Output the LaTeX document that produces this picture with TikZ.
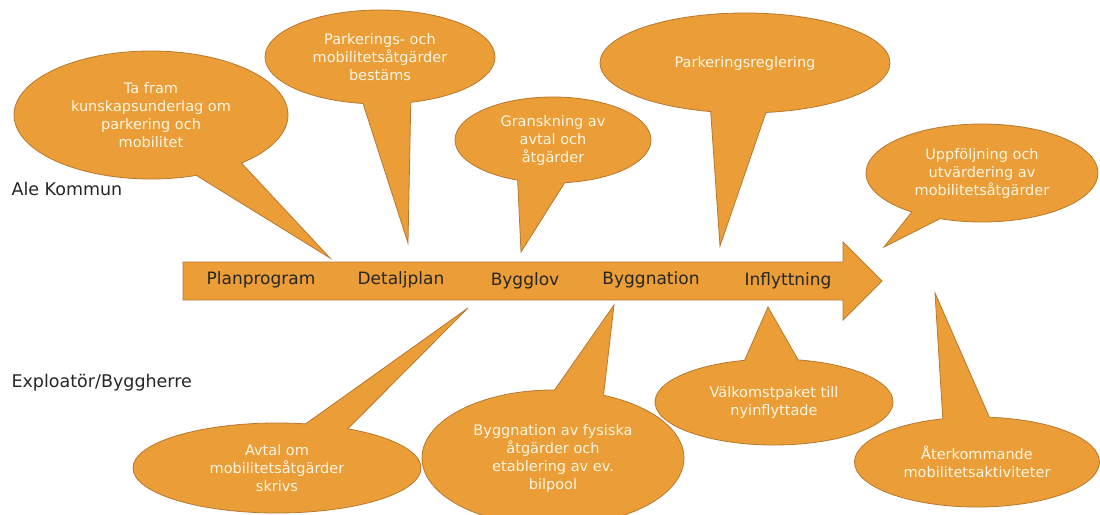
\documentclass[tikz,border=0pt]{standalone}
\usepackage{fontspec}
\setmainfont{DejaVu Sans}
\usepackage{tikz}
\usetikzlibrary{shapes.callouts}
\definecolor{naranja}{RGB}{235,157,55}
\definecolor{borde}{RGB}{184,120,46}
\definecolor{crema}{RGB}{255,246,226}
\tikzset{
  burbuja/.style={ellipse callout, fill=naranja, draw=borde, line width=0.8pt,
    text=crema, align=center, inner sep=0pt, callout pointer arc=22,
    font=\fontsize{14.5}{18}\selectfont},
  etapa/.style={text=black!85, font=\fontsize{17}{20}\selectfont},
  actor/.style={anchor=west, text=black!85, font=\fontsize{17.5}{20}\selectfont}
}

\begin{document}
\begin{tikzpicture}[x=1pt, y=-1pt]
                      \useasboundingbox (0,0) rectangle (1100,514);
                      \filldraw[fill=naranja, draw=borde, line width=0.8pt] (183,262) -- (843,262) -- (843,242) -- (882,281) -- (843,320) -- (843,300) -- (183,300) -- cycle; % flecha
                      \node[etapa] (plan) at (261,280) {Planprogram};
                      \node[etapa] (detalj) at (401,280) {Detaljplan};
                      \node[etapa] (bygglov) at (525,281) {Bygglov};
                      \node[etapa] (byggn) at (651,280) {Byggnation};
                      \node[etapa] (infl) at (788,281) {Inflyttning};
                      \node[actor] (ale) at (8,189) {Ale Kommun};
                      \node[actor] (expl) at (8,383) {Exploatör/Byggherre};
                      % burbujas arriba
                      \node[burbuja, minimum width=274, minimum height=128, callout absolute pointer={(330,258)}, callout pointer arc=22] (kunskap) at (151,115) {Ta fram\\kunskapsunderlag om\\parkering och\\mobilitet};
                      \node[burbuja, minimum width=230, minimum height=94, callout absolute pointer={(408,243)}, callout pointer arc=24] (bestams) at (380,57) {Parkerings- och\\mobilitetsåtgärder\\bestäms};
                      \node[burbuja, minimum width=196, minimum height=86, callout absolute pointer={(521,252)}, callout pointer arc=28] (gransk) at (553,140) {Granskning av\\avtal och\\åtgärder};
                      \node[burbuja, minimum width=290, minimum height=100, callout absolute pointer={(720,246)}] (reglering) at (745,63) {Parkeringsreglering};
                      \node[burbuja, minimum width=232, minimum height=98, callout absolute pointer={(884,247)}, callout pointer arc=16] (uppf) at (982,173) {Uppföljning och\\utvärdering av\\mobilitetsåtgärder};
                      % burbujas abajo
                      \node[burbuja, minimum width=288, minimum height=90, callout absolute pointer={(468,308)}, callout pointer arc=18] (avtal) at (277,468) {Avtal om\\mobilitetsåtgärder\\skrivs};
                      \node[burbuja, minimum width=262, minimum height=136, callout absolute pointer={(614,305)}] (fysiska) at (553,458) {Byggnation av fysiska\\åtgärder och\\etablering av ev.\\bilpool};
                      \node[burbuja, minimum width=238, minimum height=86, callout absolute pointer={(768,307)}, callout pointer arc=26] (valkomst) at (774,402) {Välkomstpaket till\\nyinflyttade};
                      \node[burbuja, minimum width=245, minimum height=90, callout absolute pointer={(935,293)}] (aterk) at (977,462) {Återkommande\\mobilitetsaktiviteter};
                  \end{tikzpicture}
\end{document}
